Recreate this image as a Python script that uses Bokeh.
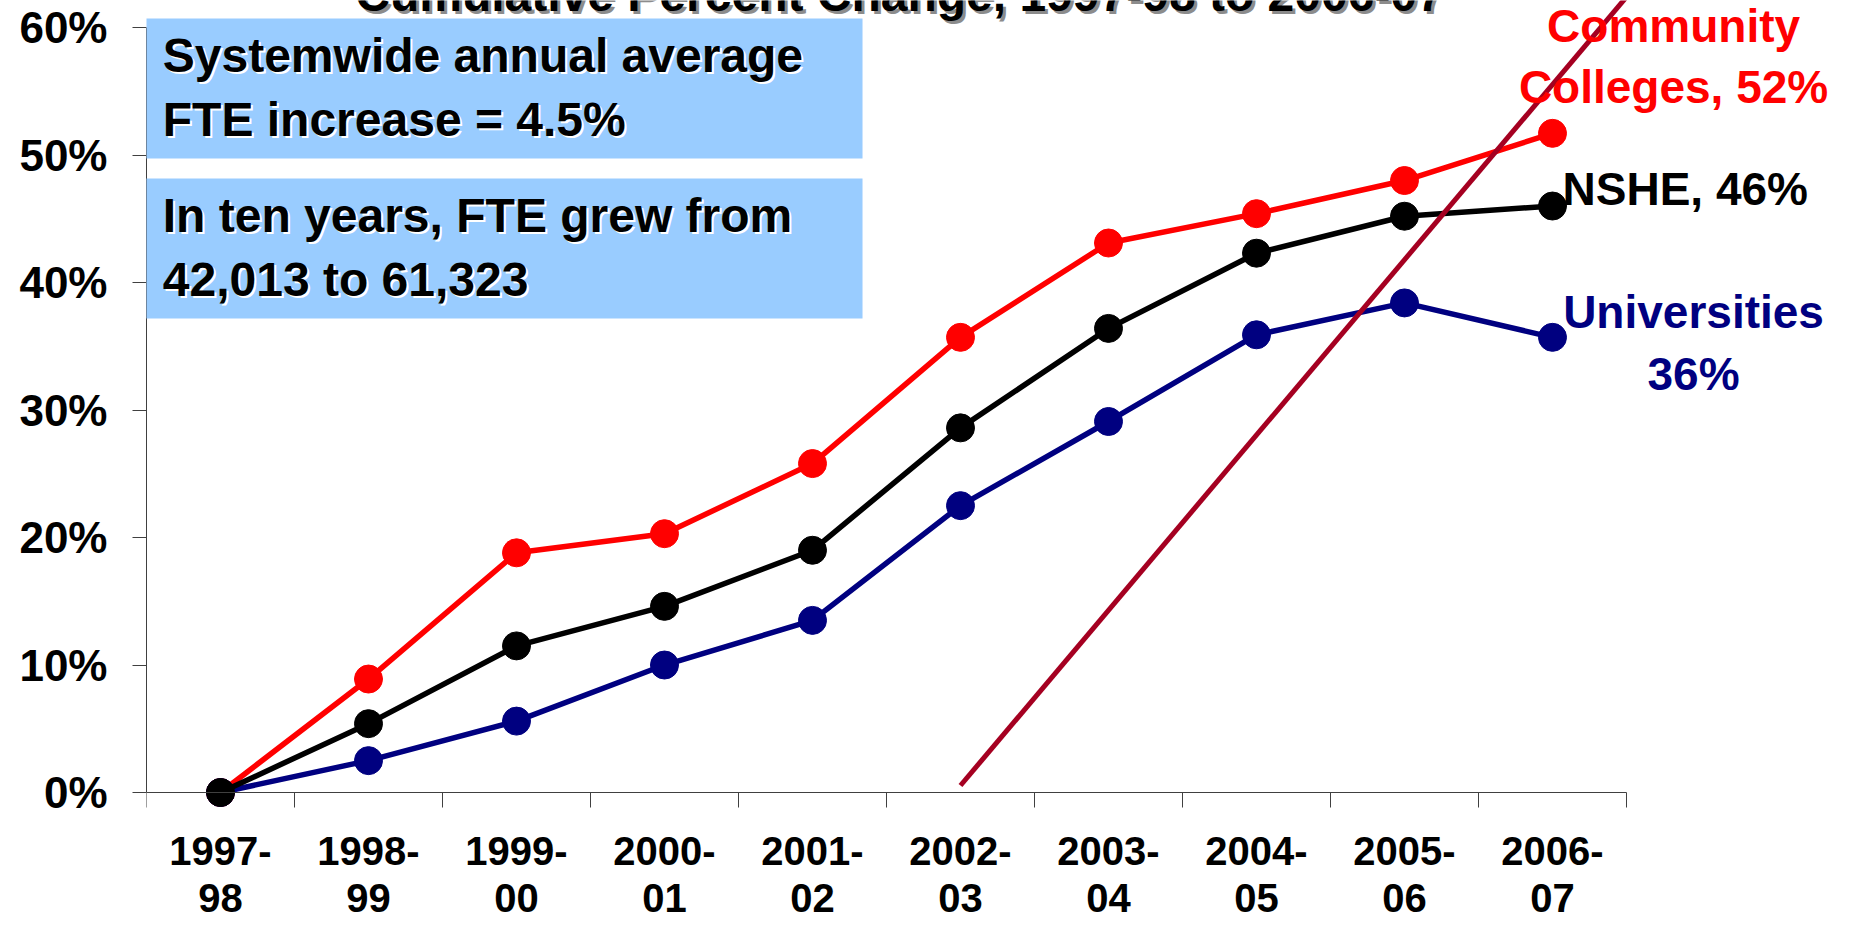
from bokeh.plotting import figure
from bokeh.models import (ColumnDataSource, Range1d, FixedTicker, Label, LinearAxis,
                          BoxAnnotation)
from bokeh.embed import file_html
from bokeh.resources import INLINE

# ---------------- data ----------------
years = ["1997-98", "1998-99", "1999-00", "2000-01", "2001-02",
         "2002-03", "2003-04", "2004-05", "2005-06", "2006-07"]
community_colleges = [0.0, 8.9, 18.8, 20.3, 25.8, 35.7, 43.1, 45.4, 48.0, 51.7]
nshe = [0.0, 5.4, 11.5, 14.6, 19.0, 28.6, 36.4, 42.3, 45.2, 46.0]
universities = [0.0, 2.5, 5.6, 10.0, 13.5, 22.5, 29.1, 35.9, 38.4, 35.7]
y_ticks = [0, 10, 20, 30, 40, 50, 60]
title_text = "Cumulative Percent Change, 1997-98 to 2006-07"
box1_lines = ["Systemwide annual average", "FTE increase = 4.5%"]
box2_lines = ["In ten years, FTE grew from", "42,013 to 61,323"]
trend_x = [5.0, 9.5]
trend_y = [0.55, 62.4]

# ---------------- styles ----------------
FONT = "Liberation Sans"
RED = "#FF0000"
NAVY = "#000080"
BLACK = "#000000"
MAROON = "#A50021"
BOX_BLUE = "#99CCFF"
AXIS_GREY = "#404040"

idx = list(range(len(years)))

p = figure(width=1840, height=919, output_backend="svg", toolbar_location=None,
           x_range=Range1d(-0.5, 10.946), y_range=Range1d(-9.96, 62.12),
           min_border=0, min_border_left=146)
p.outline_line_color = None
p.xgrid.visible = False
p.ygrid.visible = False
p.background_fill_color = "white"
p.border_fill_color = "white"

# y axis
p.yaxis.ticker = FixedTicker(ticks=y_ticks)
p.yaxis.bounds = (0, 60)
p.yaxis.major_label_overrides = {t: f"{t}%" for t in y_ticks}
p.yaxis.major_label_text_font = FONT
p.yaxis.major_label_text_font_style = "bold"
p.yaxis.major_label_text_font_size = "44px"
p.yaxis.major_label_text_color = "black"
p.yaxis.major_label_standoff = 25
p.yaxis.major_tick_out = 14
p.yaxis.major_tick_in = 0
p.yaxis.minor_tick_out = 0
p.yaxis.minor_tick_in = 0
p.yaxis.axis_line_color = AXIS_GREY
p.yaxis.major_tick_line_color = AXIS_GREY

# x axis: line + ticks on category boundaries, at y = 0
bounds = [i - 0.5 for i in range(len(years) + 1)]
xa = p.xaxis[0]
xa.fixed_location = 0
xa.bounds = (-0.5, len(years) - 0.5)
xa.ticker = FixedTicker(ticks=bounds)
xa.major_label_overrides = {b: "" for b in bounds}
xa.major_label_text_font_size = "1px"
xa.major_tick_out = 15
xa.major_tick_in = 0
xa.minor_tick_out = 0
xa.minor_tick_in = 0
xa.axis_line_color = AXIS_GREY
xa.major_tick_line_color = AXIS_GREY

# x axis: category labels centred under each point (two lines)
xl = LinearAxis(fixed_location=0)
xl.ticker = FixedTicker(ticks=idx)
xl.major_label_overrides = {i: y.replace("-", "-\n") for i, y in zip(idx, years)}
xl.major_label_text_font = FONT
xl.major_label_text_font_style = "bold"
xl.major_label_text_font_size = "40px"
xl.major_label_text_line_height = 1.08
xl.major_label_text_color = "black"
xl.major_label_standoff = 36
xl.major_tick_out = 0
xl.major_tick_in = 0
xl.minor_tick_out = 0
xl.minor_tick_in = 0
xl.axis_line_color = None
p.add_layout(xl, "below")

# series
for vals, col in ((community_colleges, RED), (universities, NAVY), (nshe, BLACK)):
    src = ColumnDataSource(dict(x=idx, y=vals))
    p.line("x", "y", source=src, line_color=col, line_width=5.5)
    p.scatter("x", "y", source=src, size=28, fill_color=col, line_color=col)

# trend line drawn over the chart
p.line(trend_x, trend_y, line_color=MAROON, line_width=5)

# text boxes
p.add_layout(BoxAnnotation(left=-0.527, right=4.338, bottom=49.73, top=60.71,
                           fill_color=BOX_BLUE, fill_alpha=1, line_alpha=0))
p.add_layout(BoxAnnotation(left=-0.527, right=4.338, bottom=37.18, top=48.16,
                           fill_color=BOX_BLUE, fill_alpha=1, line_alpha=0))


def fix(size):
    # compensate the renderer's alphabetic-baseline placement
    return round(0.37 * size)


def shadow_label(x, y, text, size, color, shadow, off, align="left"):
    f = fix(size)
    p.add_layout(Label(x=x, y=y, text=text, x_offset=off, y_offset=f - off,
                       text_font=FONT, text_font_style="bold", text_font_size=f"{size}px",
                       text_color=shadow, text_align=align, text_baseline="alphabetic"))
    p.add_layout(Label(x=x, y=y, text=text, y_offset=f,
                       text_font=FONT, text_font_style="bold", text_font_size=f"{size}px",
                       text_color=color, text_align=align, text_baseline="alphabetic"))


for line, yb in zip(box1_lines, [56.39, 51.37]):
    shadow_label(-0.39, yb, line, 48, "black", "white", 2)
for line, yb in zip(box2_lines, [43.84, 38.82]):
    shadow_label(-0.39, yb, line, 48, "black", "white", 2)

# title (cut off at the top like the reference)
shadow_label(4.588, 61.18, title_text, 48, "black", "#8C8C8C", 3, align="center")


# series labels
def plain(x, y, text, color, align):
    p.add_layout(Label(x=x, y=y, text=text, y_offset=fix(46), text_font=FONT,
                       text_font_style="bold", text_font_size="46px", text_color=color,
                       text_align=align, text_baseline="alphabetic"))


plain(9.818, 58.75, "Community", RED, "center")
plain(9.818, 54.04, f"Colleges, {round(community_colleges[-1])}%", RED, "center")
plain(9.068, 46.04, f"NSHE, {round(nshe[-1])}%", BLACK, "left")
plain(9.953, 36.39, "Universities", NAVY, "center")
plain(9.953, 31.53, f"{round(universities[-1])}%", NAVY, "center")

open("out.html", "w").write(file_html(p, INLINE))
